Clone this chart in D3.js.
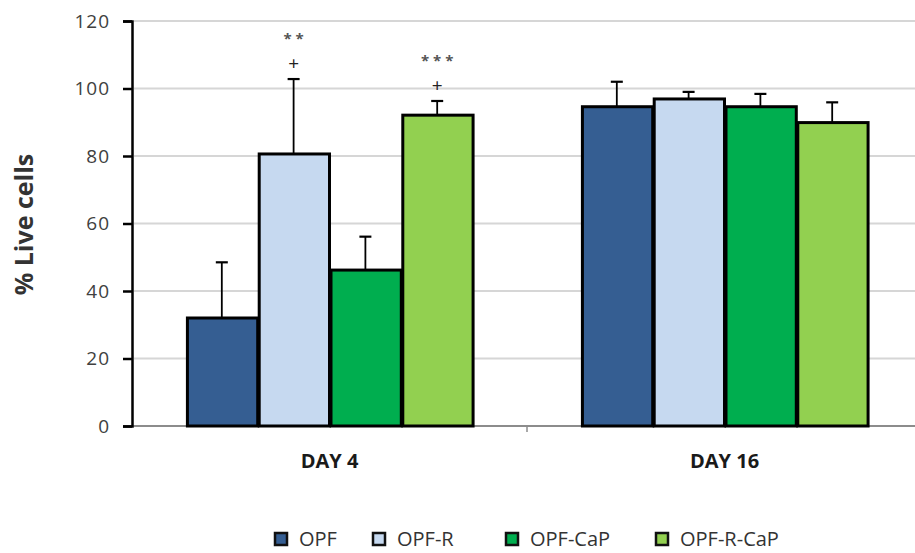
<!DOCTYPE html>
<html>
<head>
<meta charset="utf-8">
<script src="https://cdn.jsdelivr.net/npm/d3@7"></script>
<style>
  body { margin: 0; background: #fff; }
  svg { display: block; font-family: "Open Sans", "DejaVu Sans", sans-serif; }
</style>
</head>
<body>
<div id="chart"></div>
<script>
const days = ['DAY 4', 'DAY 16'];
const groups = ['OPF', 'OPF-R', 'OPF-CaP', 'OPF-R-CaP'];
const colors = ['#355e92', '#c6d9f0', '#00ae4f', '#92d050'];
// mean % live cells, per group, for day 4 and day 16
const opf = [32, 94.6];
const opfR = [80.6, 96.9];
const opfCaP = [46.2, 94.6];
const opfRCaP = [92.1, 89.9];
// error bar (upper) size
const errOpf = [16.5, 7.4];
const errOpfR = [22.2, 2.1];
const errOpfCaP = [9.9, 3.8];
const errOpfRCaP = [4.2, 6];
// significance labels above bars
const marks = [
  {day: 'DAY 4', group: 'OPF-R', stars: '**'},
  {day: 'DAY 4', group: 'OPF-R-CaP', stars: '***'}
];
const yTicks = [0, 20, 40, 60, 80, 100, 120];

const values = [opf, opfR, opfCaP, opfRCaP];
const errors = [errOpf, errOpfR, errOpfCaP, errOpfRCaP];
const data = [];
days.forEach((d, i) => {
  groups.forEach((g, j) => {
    data.push({day: d, group: g, value: values[j][i], err: errors[j][i], color: colors[j]});
  });
});

const width = 915, height = 553;
const svg = d3.select('#chart').append('svg')
  .attr('width', width)
  .attr('height', height);

const x0 = d3.scaleBand().domain(days).range([132, 922]).paddingInner(0.273).paddingOuter(0.1365);
const x1 = d3.scaleBand().domain(groups).range([0, x0.bandwidth()]);
const y = d3.scaleLinear().domain([0, 120]).range([426, 21]);

// gridlines
svg.append('g')
  .selectAll('line')
  .data(yTicks.filter(t => t > 0))
  .join('line')
    .attr('x1', 134).attr('x2', width)
    .attr('y1', d => y(d)).attr('y2', d => y(d))
    .attr('stroke', '#d6d6d6')
    .attr('stroke-width', 2);

// bottom axis line
svg.append('line')
  .attr('x1', 132).attr('x2', width)
  .attr('y1', y(0)).attr('y2', y(0))
  .attr('stroke', '#8c8c8c')
  .attr('stroke-width', 2);

// category separator tick
svg.append('line')
  .attr('x1', 527).attr('x2', 527)
  .attr('y1', y(0)).attr('y2', y(0) + 6)
  .attr('stroke', '#8c8c8c')
  .attr('stroke-width', 1.5);

// y axis
const yAxis = svg.append('g')
  .attr('transform', 'translate(132,0)')
  .call(d3.axisLeft(y).tickValues(yTicks).tickSize(9).tickPadding(13));
yAxis.select('.domain').attr('stroke', '#000').attr('stroke-width', 2.5);
yAxis.selectAll('.tick line').attr('stroke', '#000').attr('stroke-width', 2.5);
yAxis.selectAll('.tick text')
  .attr('fill', '#404040')
  .style('font-size', '19px')
  .style('letter-spacing', '1px')
  .style('font-family', '"Open Sans", sans-serif');

svg.append('text')
  .attr('transform', 'translate(33,' + (y(60) + 1) + ') rotate(-90)')
  .attr('text-anchor', 'middle')
  .attr('fill', '#333')
  .style('font-size', '25px')
  .style('font-weight', 'bold')
  .text('% Live cells');

// category labels
svg.append('g')
  .selectAll('text')
  .data(days)
  .join('text')
    .attr('x', d => x0(d) + x0.bandwidth() / 2)
    .attr('y', 468)
    .attr('text-anchor', 'middle')
    .attr('fill', '#1a1a1a')
    .style('font-size', '20px')
    .style('font-weight', 'bold')
    .text(d => d);

const bar = svg.append('g')
  .selectAll('g')
  .data(data)
  .join('g')
    .attr('transform', d => 'translate(' + (x0(d.day) + x1(d.group)) + ',0)');

// error bars
bar.append('line')
  .attr('x1', x1.bandwidth() / 2).attr('x2', x1.bandwidth() / 2)
  .attr('y1', d => y(d.value)).attr('y2', d => y(d.value + d.err))
  .attr('stroke', '#000')
  .attr('stroke-width', 1.8);
bar.append('line')
  .attr('x1', x1.bandwidth() / 2 - 6).attr('x2', x1.bandwidth() / 2 + 6)
  .attr('y1', d => y(d.value + d.err)).attr('y2', d => y(d.value + d.err))
  .attr('stroke', '#000')
  .attr('stroke-width', 2.2);

bar.append('rect')
  .attr('x', 1.5)
  .attr('y', d => y(d.value))
  .attr('width', x1.bandwidth() - 1.5)
  .attr('height', d => y(0) - y(d.value))
  .attr('fill', d => d.color)
  .attr('stroke', '#000')
  .attr('stroke-width', 3);

// significance annotations
marks.forEach(m => {
  const d = data.find(e => e.day === m.day && e.group === m.group);
  const cx = x0(m.day) + x1(m.group) + x1.bandwidth() / 2;
  const top = y(d.value + d.err);
  svg.append('text')
    .attr('x', cx).attr('y', top - 9)
    .attr('text-anchor', 'middle')
    .attr('fill', '#222')
    .style('font-size', '19px')
    .text('+');
  svg.append('text')
    .attr('x', cx + 2).attr('y', top - 35)
    .attr('text-anchor', 'middle')
    .attr('fill', '#555')
    .style('font-size', '15px')
    .style('font-weight', 'bold')
    .style('letter-spacing', '4px')
    .text(m.stars);
});

// legend
const legendX = [274, 372, 505, 655];
const legend = svg.append('g')
  .selectAll('g')
  .data(groups)
  .join('g')
    .attr('transform', (d, i) => 'translate(' + legendX[i] + ',546)');
legend.append('rect')
  .attr('x', 1).attr('y', -13)
  .attr('width', 12).attr('height', 12)
  .attr('fill', (d, i) => colors[i])
  .attr('stroke', '#111')
  .attr('stroke-width', 2.5);
legend.append('text')
  .attr('x', 25)
  .attr('y', 0)
  .attr('fill', '#333')
  .style('font-size', '20px')
  .text(d => d);
</script>
</body>
</html>
